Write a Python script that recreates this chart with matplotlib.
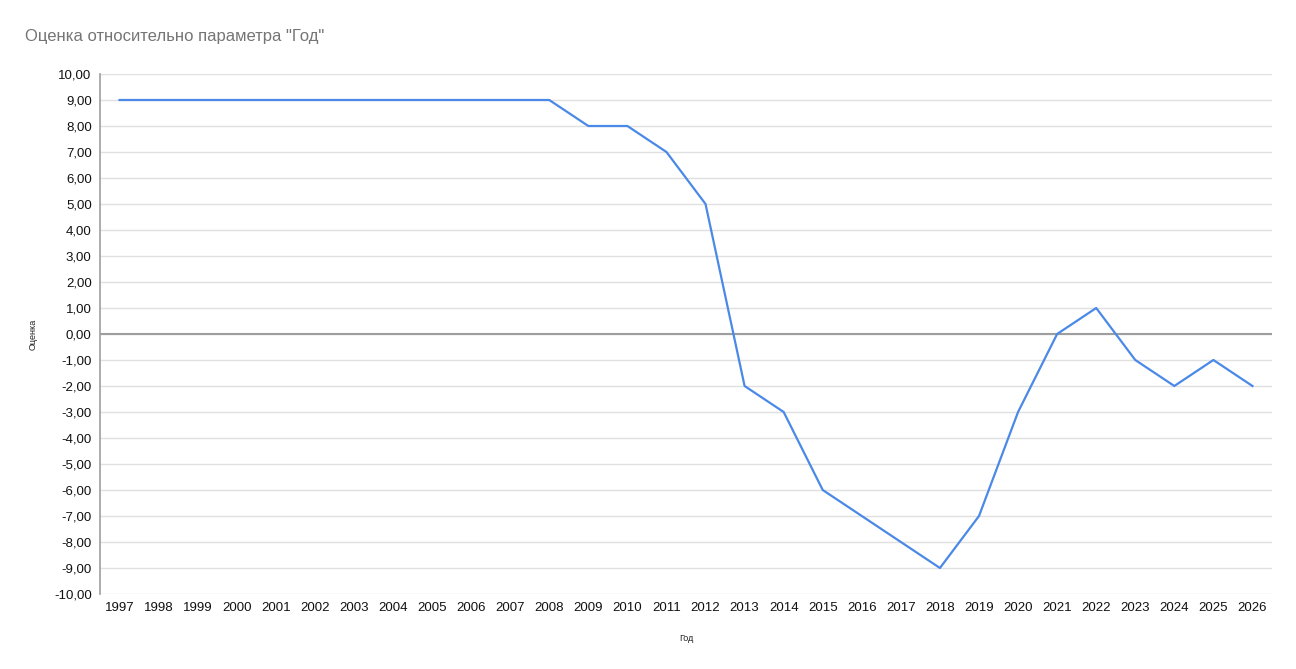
import matplotlib
matplotlib.use("Agg")
import matplotlib.pyplot as plt

plt.rcParams['font.family'] = ['Liberation Sans', 'DejaVu Sans']

# данные
years = list(range(1997, 2027))
scores = [9, 9, 9, 9, 9, 9, 9, 9, 9, 9, 9, 9,
          8, 8, 7, 5, -2, -3, -6, -7, -8, -9, -7, -3,
          0, 1, -1, -2, -1, -2]
y_ticks = list(range(-10, 11))

fig = plt.figure(figsize=(12.96, 6.69), dpi=100)
ax = fig.add_axes([100/1296, 1 - 594/669, 1172/1296, 520/669])

x = list(range(len(years)))
ax.plot(x, scores, color='#4a89e8', lw=1.6, zorder=3)

ax.set_xlim(-0.5, len(years) - 0.5)
ax.set_ylim(-10, 10)
ax.set_yticks(y_ticks)
ax.set_yticklabels([f"{v:.2f}".replace('.', ',') for v in y_ticks])
ax.set_xticks(x)
ax.set_xticklabels([str(y) for y in years])

# сетка
for v in y_ticks:
    ax.axhline(v, color='#e0e0e0', lw=1, zorder=1)
ax.axhline(0, color='#9e9e9e', lw=1.5, zorder=2)

for s in ['top', 'right', 'bottom']:
    ax.spines[s].set_visible(False)
ax.spines['left'].set_color('#9e9e9e')
ax.spines['left'].set_linewidth(1.2)
ax.tick_params(length=0, labelsize=9.5, colors='#111111', pad=6)

ax.set_xlabel("Год", fontsize=6.5, labelpad=14, color='#222222')
ax.set_ylabel("Оценка", fontsize=6.5, labelpad=12, color='#222222')

fig.text(25/1296, 1 - 37/669, 'Оценка относительно параметра "Год"',
         fontsize=12, color='#757575', va='center', ha='left')

fig.savefig("out.png", dpi=100)
